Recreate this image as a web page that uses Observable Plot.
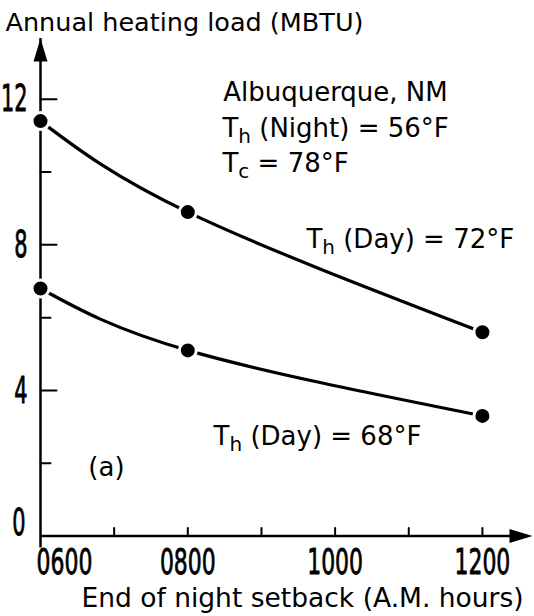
<!DOCTYPE html>
<html>
<head>
<meta charset="utf-8">
<script src="https://cdn.jsdelivr.net/npm/d3@7"></script>
<script src="https://cdn.jsdelivr.net/npm/@observablehq/plot@0.6"></script>
<style>
  html, body { margin: 0; padding: 0; background: #fff; }
  #chart svg { display: block; }
</style>
</head>
<body>
<div id="chart"></div>
<script>
// End of night setback (A.M. hours) at which the results were computed
const setbackHours = [6, 8, 12];
// Annual heating load (MBTU) for the two daytime thermostat settings
const loadDay72 = [11.4, 8.9, 5.6];
const loadDay68 = [6.8, 5.1, 3.3];
const seriesNames = ["72", "68"];

// Axis ticks and tick labels
const xTickHours = [7, 8, 9, 10, 11, 12];
const xTickLabels = ["0600", "0800", "1000", "1200"];
const xTickLabelHours = [6, 8, 10, 12];
const yMajorTicks = [4, 8, 12];
const yMinorTicks = [2, 6, 10];
const yTickLabels = [4, 8, 12];

// Text placed inside the plot (anchored at hour / load values); "_x" marks a subscript
const noteTexts = ["Albuquerque, NM", "T_h (Night) = 56°F", "T_c = 78°F", "T_h (Day) = 72°F", "T_h (Day) = 68°F", "(a)"];
const noteHours = [8.48, 8.47, 8.47, 9.61, 8.35, 6.65];
const noteLoads = [11.94, 10.95, 9.99, 7.9, 2.51, 1.66];

const xDomain = [6, 12.68];
const yDomain = [0, 13.67];

const rows = [loadDay72, loadDay68].flatMap((loads, s) =>
  setbackHours.map((hour, i) => ({hour, load: loads[i], series: seriesNames[s]}))
);
const notes = noteTexts.map((text, i) => ({text, hour: noteHours[i], load: noteLoads[i]}));

const textFont = "'DejaVu Sans', 'Liberation Sans', sans-serif";
const digitFont = "'DejaVu Sans', sans-serif";
const digitStyle = {fontFamily: digitFont, fill: "black", stroke: "black", strokeWidth: 0.9};

// A plain stroke from the anchor outward (used for axis ticks)
const tickShape = {draw(ctx, length) { ctx.moveTo(0, 0); ctx.lineTo(0, -length); }};
// A filled, elongated arrowhead with its tip at the anchor, pointing up
const arrowHead = {draw(ctx) { ctx.moveTo(0, 0); ctx.lineTo(-7, 23); ctx.lineTo(7, 23); ctx.closePath(); }};

const chart = Plot.plot({
  width: 534,
  height: 616,
  marginLeft: 40,
  marginRight: 2,
  marginTop: 38,
  marginBottom: 80.5,
  x: {domain: xDomain, axis: null},
  y: {domain: yDomain, axis: null},
  style: {background: "white", color: "black", overflow: "visible"},
  marks: [
    // axis lines with arrowheads
    Plot.ruleY([0], {x1: xDomain[0], x2: xDomain[1], insetRight: 12, stroke: "black", strokeWidth: 2.5}),
    Plot.ruleX([xDomain[0]], {y1: 0, y2: yDomain[1], insetTop: 12, stroke: "black", strokeWidth: 2.5}),
    Plot.dot([0], {x: () => xDomain[1], y: () => 0, symbol: arrowHead, rotate: 90, fill: "black", r: 6}),
    Plot.dot([0], {x: () => xDomain[0], y: () => yDomain[1], symbol: arrowHead, rotate: 0, fill: "black", r: 6}),

    // ticks drawn inward from the axes
    Plot.vector(yMajorTicks, {x: () => xDomain[0], y: d => d, length: 16, rotate: 90, anchor: "start", shape: tickShape, stroke: "black", strokeWidth: 2}),
    Plot.vector(yMinorTicks, {x: () => xDomain[0], y: d => d, length: 10, rotate: 90, anchor: "start", shape: tickShape, stroke: "black", strokeWidth: 2}),
    Plot.vector(xTickHours, {x: d => d, y: () => 0, length: 8, rotate: 0, anchor: "start", shape: tickShape, stroke: "black", strokeWidth: 2}),

    // tick labels
    Plot.text(yTickLabels, {x: () => xDomain[0], y: d => d, text: d => String(d), textAnchor: "end", dx: -13, fontSize: 38, ...digitStyle}),
    Plot.text([0], {x: () => xDomain[0], y: d => d, text: d => String(d), textAnchor: "end", dx: -15, dy: -13, fontSize: 38, ...digitStyle}),
    Plot.text(xTickLabels.slice(1), {x: (d, i) => xTickLabelHours[i + 1], y: () => 0, text: d => d, lineAnchor: "top", dy: 12, fontSize: 36, ...digitStyle}),
    Plot.text(xTickLabels.slice(0, 1), {x: () => xTickLabelHours[0], y: () => 0, text: d => d, textAnchor: "start", lineAnchor: "top", dy: 12, dx: -4, fontSize: 36, ...digitStyle}),

    // axis titles
    Plot.text(["Annual heating load (MBTU)"], {frameAnchor: "top-left", text: d => d, textAnchor: "start", lineAnchor: "bottom", dx: -35, dy: -8, fontSize: 25.5, fontFamily: textFont}),
    Plot.text(["End of night setback (A.M. hours)"], {frameAnchor: "bottom", text: d => d, lineAnchor: "bottom", dx: 16, dy: 71, fontSize: 26.5, fontFamily: textFont}),

    // the two load curves and the computed points
    Plot.line(rows, {x: "hour", y: "load", z: "series", curve: "natural", stroke: "black", strokeWidth: 3.2}),
    Plot.dot(rows, {x: "hour", y: "load", r: 8.5, fill: "black", stroke: "white", strokeWidth: 3}),

    // annotations
    Plot.text(notes, {x: "hour", y: "load", text: "text", textAnchor: "start", lineAnchor: "bottom", fontSize: 26, fontFamily: textFont})
  ]
});

const svg = d3.select(chart);

// Render "_x" inside annotation strings as a lowered, smaller subscript
svg.selectAll("text").each(function () {
  const el = d3.select(this);
  const s = el.text();
  const m = s.match(/^(.*?)_(\w)(.*)$/);
  if (!m) return;
  el.text(null);
  el.append("tspan").text(m[1]);
  el.append("tspan").attr("font-size", "20px").attr("dy", "6px").text(m[2]);
  el.append("tspan").attr("dy", "-6px").text(m[3]);
});

// Tick numerals are set in a tall, narrow style: squeeze them horizontally about their anchor
svg.selectAll("text").filter(function () { return /^\d+$/.test(d3.select(this).text()); }).each(function () {
  const el = d3.select(this);
  const k = this.textContent.length === 4 ? 0.61 : 0.55;
  const t = el.attr("transform");
  if (t) {
    el.attr("transform", `${t} scale(${k},1)`);
  } else {
    const x = +el.attr("x") || 0, y = +el.attr("y") || 0;
    el.attr("transform", `translate(${x},${y}) scale(${k},1) translate(${-x},${-y})`);
  }
});

document.getElementById("chart").append(chart);
</script>
</body>
</html>
